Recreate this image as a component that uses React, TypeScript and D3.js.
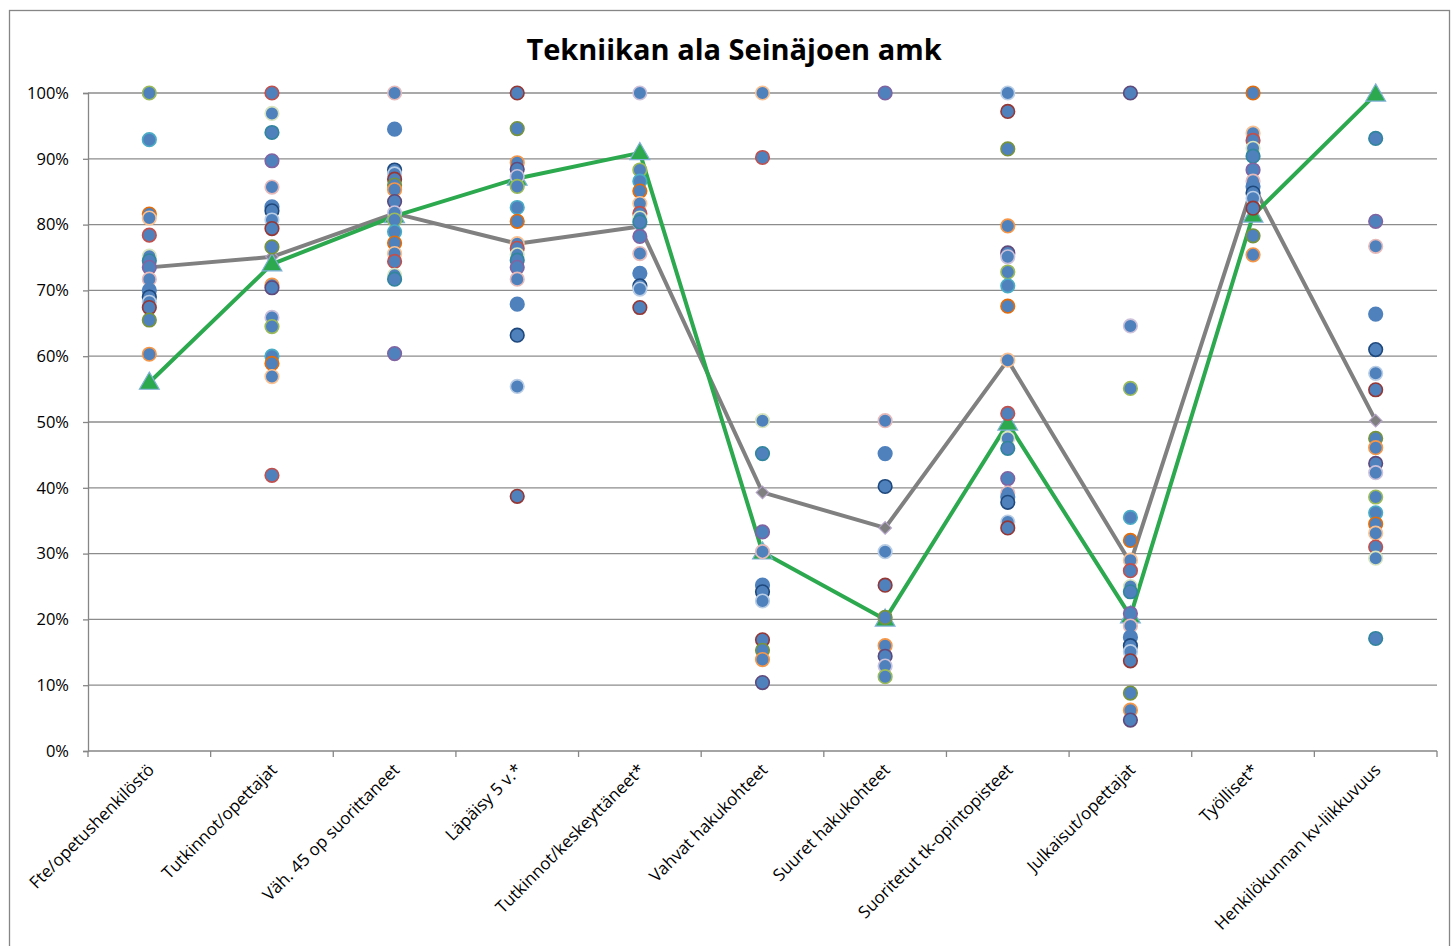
import React, { useEffect, useRef } from 'react';
import * as d3 from 'd3';

const title = 'Tekniikan ala Seinäjoen amk';

const categories = [
  'Fte/opetushenkilöstö',
  'Tutkinnot/opettajat',
  'Väh. 45 op suorittaneet',
  'Läpäisy 5 v.*',
  'Tutkinnot/keskeyttäneet*',
  'Vahvat hakukohteet',
  'Suuret hakukohteet',
  'Suoritetut tk-opintopisteet',
  'Julkaisut/opettajat',
  'Työlliset*',
  'Henkilökunnan kv-liikkuvuus',
];

const yTicks = [0, 10, 20, 30, 40, 50, 60, 70, 80, 90, 100];

// other institutions, one list of values (%) per category
const fteDots = [100, 92.9, 81.6, 81, 78.4, 75.2, 74.5, 73.5, 71.7, 70, 69, 68.2, 67.4, 65.5, 60.3];
const tutkOpeDots = [100, 96.9, 94, 89.7, 85.7, 82.7, 82.1, 80.7, 79.4, 76.6, 70.8, 70.4, 65.9, 64.5, 60, 58.9, 56.9, 41.9];
const vah45Dots = [100, 94.5, 88.3, 87.7, 86.9, 86, 85.3, 83.5, 81.8, 80.7, 78.9, 77.2, 75.6, 74.4, 72.3, 71.7, 60.4];
const lapaisyDots = [100, 94.6, 89.4, 88.4, 87.3, 85.8, 82.6, 80.5, 77.1, 76.4, 75.4, 74.6, 73.5, 71.7, 67.9, 63.2, 55.4, 38.7];
const tutkKeskDots = [100, 88.3, 86.6, 85.1, 83.2, 81.7, 81, 80.4, 78.2, 75.6, 72.6, 70.7, 70.2, 67.4];
const vahvatDots = [100, 90.2, 50.2, 45.2, 33.3, 30.3, 25.2, 24.2, 22.8, 16.9, 15.3, 13.9, 10.4];
const suuretDots = [100, 50.2, 45.2, 40.2, 30.3, 25.2, 20.3, 16, 14.4, 12.9, 11.3];
const tkDots = [100, 97.2, 91.5, 79.8, 75.7, 75.1, 72.8, 70.7, 67.6, 59.4, 51.3, 47.5, 46, 41.4, 39.2, 38.6, 37.8, 34.8, 33.9];
const julkDots = [100, 64.6, 55.1, 35.5, 32, 29, 27.4, 25, 24.2, 20.9, 19, 17.3, 16, 15.1, 13.7, 8.8, 6.2, 4.7];
const tyollisetDots = [100, 93.9, 92.8, 91.6, 90.4, 88.3, 86.6, 85.8, 84.8, 84, 82.5, 78.3, 75.4];
const kvDots = [93.1, 80.5, 76.7, 66.4, 61, 57.4, 54.9, 47.5, 46.1, 43.7, 42.3, 38.6, 36.2, 34.5, 33.1, 31, 29.3, 17.1];

const dotsByCategory = [
  fteDots, tutkOpeDots, vah45Dots, lapaisyDots, tutkKeskDots, vahvatDots,
  suuretDots, tkDots, julkDots, tyollisetDots, kvDots,
];

// grey = field average, green = Seinäjoen amk
const averageLine = [73.5, 75.1, 81.7, 77.1, 79.7, 39.3, 33.9, 59.4, 28.6, 86.0, 50.2];
const seamkLine = [56.0, 74.0, 81.3, 87.0, 90.9, 30.2, 20.0, 49.8, 20.5, 81.4, 99.8];

const outlines = [
  '#9BBB59', '#8064A2', '#F79646', '#C0504D', '#B9CDE5', '#4BACC6',
  '#E6B9B8', '#604A7B', '#D7E4BD', '#953735', '#E46C0A', '#4F81BD',
  '#CCC1DA', '#31859C', '#77933C', '#FAC090', '#1F497D',
];

export default function App() {
  const ref = useRef<SVGSVGElement>(null);
  const width = 1451,
    height = 946;
  const margin = { top: 93, right: 14, bottom: 195, left: 88 };
  const font = "'Open Sans', 'Liberation Sans', sans-serif";

  useEffect(() => {
    const svg = d3.select(ref.current);
    svg.selectAll('*').remove();

    const x = d3
      .scaleBand()
      .domain(categories)
      .range([margin.left, width - margin.right]);
    const y = d3
      .scaleLinear()
      .domain([0, 100])
      .range([height - margin.bottom, margin.top]);
    const cx = (i: number) => (x(categories[i]) as number) + x.bandwidth() / 2;

    svg
      .append('rect')
      .attr('x', 9.5)
      .attr('y', 10.5)
      .attr('width', width - 11)
      .attr('height', height + 20)
      .attr('fill', '#fff')
      .attr('stroke', '#868686')
      .attr('stroke-width', 1.3);

    svg
      .append('text')
      .attr('x', 734)
      .attr('y', 60)
      .attr('text-anchor', 'middle')
      .attr('font-family', font)
      .attr('font-weight', 'bold')
      .attr('font-size', 29)
      .attr('fill', '#000')
      .text(title);

    // gridlines
    svg
      .append('g')
      .selectAll('line')
      .data(yTicks.filter((t) => t > 0))
      .join('line')
      .attr('x1', margin.left)
      .attr('x2', width - margin.right)
      .attr('y1', (d) => y(d))
      .attr('y2', (d) => y(d))
      .attr('stroke', '#8c8c8c')
      .attr('stroke-width', 1.3);

    // y axis
    const yAxis = svg
      .append('g')
      .attr('transform', `translate(${margin.left},0)`)
      .call(
        d3
          .axisLeft(y)
          .tickValues(yTicks)
          .tickSize(5)
          .tickPadding(14)
          .tickFormat((d) => `${d}%`)
      );
    yAxis.select('.domain').attr('stroke', '#868686').attr('stroke-width', 1.3);
    yAxis.selectAll('.tick line').attr('stroke', '#868686').attr('stroke-width', 1.3);
    yAxis
      .selectAll('.tick text')
      .attr('font-family', font)
      .attr('font-size', 16.5)
      .attr('fill', '#000');

    // x axis
    const xAxis = svg.append('g').attr('transform', `translate(0,${y(0)})`);
    xAxis
      .append('line')
      .attr('x1', margin.left)
      .attr('x2', width - margin.right)
      .attr('stroke', '#868686')
      .attr('stroke-width', 1.3);
    xAxis
      .selectAll('line.tk')
      .data(d3.range(categories.length + 1))
      .join('line')
      .attr('class', 'tk')
      .attr('x1', (i) => margin.left + i * x.bandwidth())
      .attr('x2', (i) => margin.left + i * x.bandwidth())
      .attr('y1', 0)
      .attr('y2', 6)
      .attr('stroke', '#868686')
      .attr('stroke-width', 1.3);
    xAxis
      .selectAll('text')
      .data(categories)
      .join('text')
      .attr('transform', (d, i) => `translate(${cx(i) + 6},${20}) rotate(-45)`)
      .attr('text-anchor', 'end')
      .attr('font-family', font)
      .attr('font-size', 17)
      .attr('fill', '#000')
      .text((d) => d);

    // lines
    const line = d3
      .line<number>()
      .x((d, i) => cx(i))
      .y((d) => y(d));

    svg
      .append('path')
      .datum(averageLine)
      .attr('fill', 'none')
      .attr('stroke', '#808080')
      .attr('stroke-width', 4)
      .attr('stroke-linejoin', 'round')
      .attr('d', line);
    svg
      .append('g')
      .selectAll('path')
      .data(averageLine)
      .join('path')
      .attr('transform', (d, i) => `translate(${cx(i)},${y(d)})`)
      .attr('d', d3.symbol(d3.symbolDiamond2, 100))
      .attr('fill', '#7f7f7f')
      .attr('stroke', '#b3a2c7')
      .attr('stroke-width', 1.2);

    svg
      .append('path')
      .datum(seamkLine)
      .attr('fill', 'none')
      .attr('stroke', '#2ca94f')
      .attr('stroke-width', 4)
      .attr('stroke-linejoin', 'round')
      .attr('d', line);
    svg
      .append('g')
      .selectAll('path')
      .data(seamkLine)
      .join('path')
      .attr('transform', (d, i) => `translate(${cx(i)},${y(d) + 1})`)
      .attr('d', d3.symbol(d3.symbolTriangle, 170))
      .attr('fill', '#2ca94f')
      .attr('stroke', '#7fb0d8')
      .attr('stroke-width', 1.2);

    // dots of the other institutions
    const points = dotsByCategory.flatMap((vals, c) =>
      vals.map((v, k) => ({ c, v, k }))
    );
    svg
      .append('g')
      .selectAll('circle')
      .data(points)
      .join('circle')
      .attr('cx', (d) => cx(d.c))
      .attr('cy', (d) => y(d.v))
      .attr('r', 6.8)
      .attr('fill', '#4f81bd')
      .attr('stroke', (d) => outlines[(d.k * 5 + d.c * 3) % outlines.length])
      .attr('stroke-width', 1.6);
  }, []);

  return (
    <svg
      ref={ref}
      width={width}
      height={height}
      viewBox={`0 0 ${width} ${height}`}
      style={{ position: 'absolute', left: 0, top: 0, background: '#fff' }}
    />
  );
}
